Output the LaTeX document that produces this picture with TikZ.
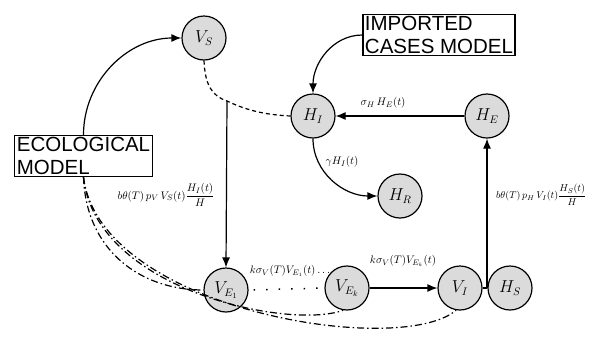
\documentclass[tikz,border=0pt]{standalone}
\usepackage{amsmath}
\usepackage{fontspec}
\newfontfamily\boxfont{Liberation Sans}
\usetikzlibrary{arrows.meta}
\begin{document}
\begin{tikzpicture}[x=1pt,y=-1pt,
  st/.style={circle,draw,line width=1.2pt,fill=black!14,minimum size=44pt,inner sep=0pt,font=\fontsize{16}{18}\selectfont},
  modelbox/.style={draw,line width=1.2pt,align=left,font=\boxfont\fontsize{20.5}{22.5}\selectfont,inner sep=2pt},
  lab/.style={font=\fontsize{11}{12}\selectfont,inner sep=1pt},
  flow/.style={line width=1.2pt,-{Latex[length=10pt,width=8pt]}},
  dsh/.style={line width=1.2pt,dash pattern=on 4pt off 3pt},
  dd/.style={line width=1.2pt,dash pattern=on 7pt off 3pt on 1.5pt off 3pt}]
\useasboundingbox (0,0) rectangle (591,346);
\node[st] (VS) at (204,38) {$V_S$};
\node[st] (HI) at (313,116) {$H_I$};
\node[st] (HE) at (487,116) {$H_E$};
\node[st] (HR) at (400,196) {$H_R$};
\node[st] (VE1) at (226,290) {$V_{E_1}$};
\node[st] (VEk) at (347,288) {$V_{E_k}$};
\node[st] (VI) at (460,288) {$V_I$};
\node[st] (HS) at (510,288) {$H_S$};
\node[modelbox] (imp) at (439,35) {IMPORTED\\CASES MODEL};
\node[modelbox] (eco) at (83.5,156) {ECOLOGICAL\\MODEL};
\coordinate (j1) at (227,101);
\coordinate (j2) at (487,288);
% ecological -> VS
\draw[flow] (eco.north) to[out=90,in=180,looseness=1] (VS.west);
% imported -> HI
\draw[flow] (imp.west) to[out=180,in=90] (HI.north);
% dashed VS - HI
\draw[dsh] (VS.south) .. controls (205,85) and (212,96) .. (j1) .. controls (250,112) and (270,115) .. (HI.west);
\draw[flow] (j1) -- (VE1.north);
% HE -> HI
\draw[flow] (HE.west) -- (HI.east);
\draw[flow] (HI.south) to[out=-90,in=180] (HR.west);
% VI - HS
\draw[dsh] (VI.east) -- (HS.west);
\draw[flow] (j2) -- (HE.south);
% chain
\draw[line width=1.5pt,dash pattern=on 1.5pt off 11pt,dash phase=-5pt] (VE1.east) -- (VEk.west);
\draw[flow] (VEk.east) -- (VI.west);
% dash-dot from ecological model
\draw[dd] (eco.south) .. controls (86,250) and (140,290) .. (VE1.west);
\draw[dd] (eco.south) .. controls (95,290) and (290,330) .. (VEk.-100);
\draw[dd] (eco.south) .. controls (100,310) and (400,358) .. (VI.-100);
% labels
\node[lab] at (383,103) {$\sigma_H\,H_E(t)$};
\node[lab] at (342,162) {$\gamma H_I(t)$};
\node[lab] at (166,195) {$b\theta(T)\,p_V\,V_S(t)\dfrac{H_I(t)}{H}$};
\node[lab,anchor=west,font=\fontsize{10}{11}\selectfont] at (495,195) {$b\theta(T)\,p_H\,V_I(t)\dfrac{H_S(t)}{H}$};
\node[lab] at (290,271) {$k\sigma_V(T)V_{E_1}(t)\ldots$};
\node[lab] at (403,261) {$k\sigma_V(T)V_{E_k}(t)$};
\end{tikzpicture}
\end{document}
